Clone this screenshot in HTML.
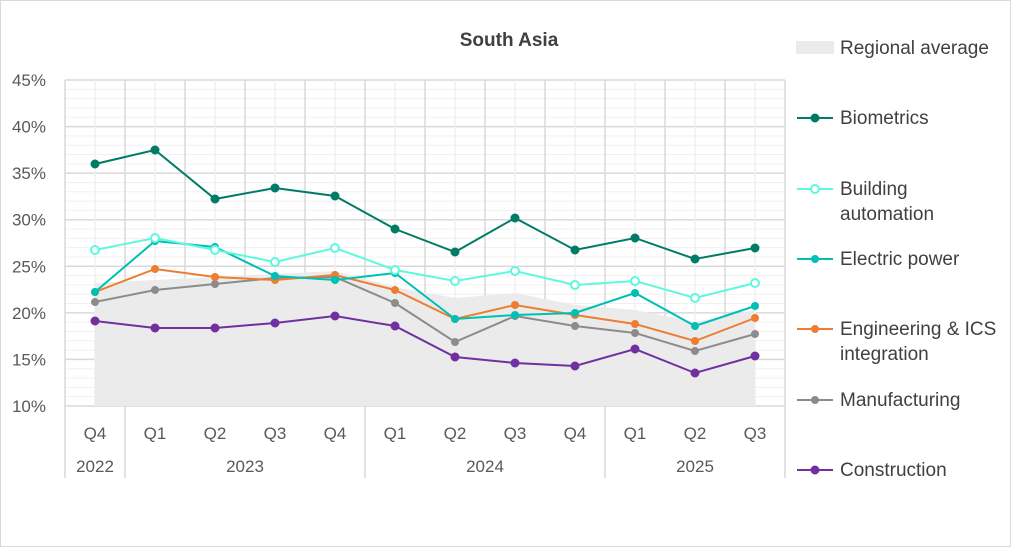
<!DOCTYPE html>
<html><head><style>
body{margin:0;background:#fff;}
svg{display:block;font-family:"Liberation Sans",sans-serif;}
</style></head><body>
<svg width="1011" height="547" viewBox="0 0 1011 547">
<rect x="0.5" y="0.5" width="1010" height="546" fill="#fff" stroke="#d9d9d9"/>
<text x="509" y="46" text-anchor="middle" font-size="19" font-weight="bold" fill="#404040">South Asia</text>
<g id="grid"></g>
<path d="M95,283 L155,280 L215,277 L275,274 L335,271 L395,287 L455,298 L515,293 L575,305 L635,310 L695,322 L755,310 L755,406 L95,406Z" fill="#ebebeb"/>
<g id="series"></g>
<g font-size="17" fill="#595959" text-anchor="end" id="yl"></g>
<g font-size="17" fill="#595959" text-anchor="middle" id="xl"></g>
<g font-size="19" fill="#404040">
<rect x="796" y="41" width="38" height="13" fill="#ebebeb"/>
<text x="840" y="54">Regional average</text>
<text x="840" y="124">Biometrics</text>
<text x="840" y="195">Building</text><text x="840" y="220">automation</text>
<text x="840" y="265">Electric power</text>
<text x="840" y="335">Engineering &amp; ICS</text><text x="840" y="360">integration</text>
<text x="840" y="406">Manufacturing</text>
<text x="840" y="476">Construction</text>
</g>
<g id="leg"></g>
</svg>
<script>
const NS="http://www.w3.org/2000/svg";
function el(p,t,a){const e=document.createElementNS(NS,t);for(const k in a)e.setAttribute(k,a[k]);document.getElementById(p).appendChild(e);return e;}
for(let v=10;v<=45;v++){const y=406-(v-10)*9.314;el('grid','line',{x1:65,x2:785,y1:y,y2:y,stroke:v%5?'#f0f0f0':'#d9d9d9','stroke-width':v%5?1:1.5});}
for(let i=0;i<12;i++){el('grid','line',{x1:95+60*i,x2:95+60*i,y1:80,y2:406,stroke:'#f0f0f0','stroke-width':1.5});}
for(let i=0;i<=12;i++){el('grid','line',{x1:65+60*i,x2:65+60*i,y1:80,y2:406,stroke:'#d9d9d9','stroke-width':1.5});}
[65,125,365,605,785].forEach(x=>el('grid','line',{x1:x,x2:x,y1:406,y2:478,stroke:'#d9d9d9','stroke-width':1.5}));
for(let v=10;v<=45;v+=5){const t=el('yl','text',{x:46,y:412-(v-10)*9.314});t.textContent=v+'%';}
const q=['Q4','Q1','Q2','Q3','Q4','Q1','Q2','Q3','Q4','Q1','Q2','Q3'];
q.forEach((s,i)=>{el('xl','text',{x:95+60*i,y:439}).textContent=s;});
[[95,'2022'],[245,'2023'],[485,'2024'],[695,'2025']].forEach(([x,s])=>{el('xl','text',{x:x,y:472}).textContent=s;});
const S=[
['#8c8c8c',[302,290,284,278,277,303,342,316,326,333,351,334],0,3.5,400],
['#ed7d31',[292,269,277,280,275,290,319,305,315,324,341,318],0,3.5,329],
['#00bfb3',[292,241,247,276,280,273,319,315,313,293,326,306],0,3.5,259],
['#5ef8e0',[250,238,250,262,248,270,281,271,285,281,298,283],1,4,189],
['#007c66',[164,150,199,188,196,229,252,218,250,238,259,248],0,4,118],
['#7030a0',[321,328,328,323,316,326,357,363,366,349,373,356],0,4,470]];
S.forEach(([c,ys,hollow,r,ly])=>{
 el('series','polyline',{points:ys.map((y,i)=>(95+60*i)+','+y).join(' '),fill:'none',stroke:c,'stroke-width':2});
 ys.forEach((y,i)=>el('series','circle',{cx:95+60*i,cy:y,r:r,fill:hollow?'#fff':c,stroke:c,'stroke-width':hollow?2:1}));
 el('leg','line',{x1:797,x2:833,y1:ly,y2:ly,stroke:c,'stroke-width':2});
 el('leg','circle',{cx:815,cy:ly,r:r,fill:hollow?'#fff':c,stroke:c,'stroke-width':hollow?2:1});
});
</script>
</body></html>
